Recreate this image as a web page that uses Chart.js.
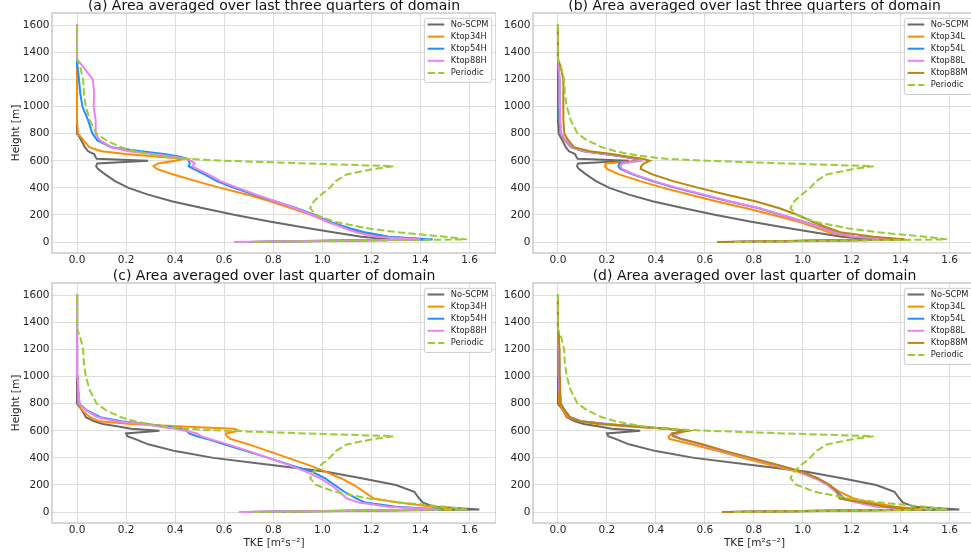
<!DOCTYPE html>
<html>
<head>
<meta charset="utf-8">
<script src="https://cdn.jsdelivr.net/npm/chart.js@4.4.1/dist/chart.umd.min.js"></script>
<style>
  html, body { margin: 0; padding: 0; background: #fff; overflow: hidden; }
  #fig { position: relative; width: 971px; height: 554px; overflow: hidden; background: #fff; }
  #fig canvas { position: absolute; }
</style>
</head>
<body>
<div id="fig">
  <canvas id="pa" width="496" height="270" style="left:0px;top:-1px"></canvas>
  <canvas id="pb" width="496" height="270" style="left:480px;top:-1px"></canvas>
  <canvas id="pc" width="496" height="285" style="left:0px;top:269px"></canvas>
  <canvas id="pd" width="496" height="285" style="left:480px;top:269px"></canvas>
</div>
<script>
// heights [m] shared by every profile
const Z = [0, 20, 40, 70, 100, 150, 200, 250, 300, 350, 400, 450, 500, 540, 560,
  580, 600, 615, 630, 650, 670, 700, 750, 800, 900, 1000, 1100, 1200, 1300, 1350, 1610]

const X_TICKS = [0.0, 0.2, 0.4, 0.6, 0.8, 1.0, 1.2, 1.4, 1.6]
const Y_TICKS = [0, 200, 400, 600, 800, 1000, 1200, 1400, 1600]

const TITLES = [
  "(a) Area averaged over last three quarters of domain",
  "(b) Area averaged over last three quarters of domain",
  "(c) Area averaged over last quarter of domain",
  "(d) Area averaged over last quarter of domain",
]
const LABELS_H = ["No-SCPM", "Ktop34H", "Ktop54H", "Ktop88H", "Periodic"]
const LABELS_L = ["No-SCPM", "Ktop34L", "Ktop54L", "Ktop88L", "Ktop88M", "Periodic"]

// TKE [m2 s-2] at the heights in Z
const PERIODIC = [0.72, 1.59, 1.50, 1.32, 1.19, 1.05, 0.975, 0.95, 0.965, 0.995, 1.03, 1.055, 1.10, 1.21, 1.29,
  0.94, 0.61, 0.44, 0.365, 0.29, 0.235, 0.18, 0.12, 0.08, 0.052, 0.036, 0.028, 0.025, 0.012, 0, 0]

// last three quarters of domain
const NOSCPM_3Q = [0.70, 1.28, 1.16, 1.05, 0.95, 0.79, 0.645, 0.515, 0.39, 0.29, 0.21, 0.155, 0.115, 0.085, 0.078,
  0.082, 0.29, 0.08, 0.075, 0.07, 0.045, 0.032, 0.018, 0.003, 0, 0, 0, 0, 0, 0, 0]
const K34H_3Q = [0.70, 1.42, 1.27, 1.155, 1.10, 1.025, 0.955, 0.875, 0.79, 0.695, 0.585, 0.485, 0.39, 0.325, 0.312,
  0.33, 0.40, 0.44, 0.33, 0.20, 0.10, 0.05, 0.027, 0.004, 0, 0, 0, 0, 0, 0, 0]
const K54H_3Q = [0.70, 1.45, 1.27, 1.18, 1.115, 1.03, 0.97, 0.895, 0.81, 0.72, 0.64, 0.57, 0.52, 0.475, 0.455,
  0.46, 0.455, 0.45, 0.42, 0.355, 0.26, 0.14, 0.083, 0.063, 0.045, 0.022, 0.013, 0.008, 0.002, 0, 0]
const K88H_3Q = [0.64, 1.40, 1.22, 1.14, 1.095, 1.02, 0.96, 0.89, 0.81, 0.73, 0.655, 0.585, 0.535, 0.49, 0.47,
  0.48, 0.465, 0.445, 0.39, 0.31, 0.21, 0.14, 0.094, 0.075, 0.076, 0.068, 0.07, 0.064, 0.022, 0, 0]
const K34L_3Q = [0.70, 1.40, 1.20, 1.11, 1.065, 0.985, 0.88, 0.77, 0.65, 0.54, 0.43, 0.335, 0.25, 0.20, 0.192,
  0.195, 0.33, 0.31, 0.27, 0.19, 0.105, 0.052, 0.028, 0.01, 0.007, 0.006, 0.006, 0.005, 0.002, 0, 0]
const K54L_3Q = [0.70, 1.41, 1.21, 1.135, 1.09, 1.005, 0.915, 0.82, 0.70, 0.59, 0.48, 0.385, 0.305, 0.255, 0.247,
  0.25, 0.33, 0.32, 0.27, 0.19, 0.105, 0.055, 0.032, 0.012, 0.008, 0.007, 0.006, 0.005, 0.002, 0, 0]
const K88L_3Q = [0.68, 1.41, 1.21, 1.13, 1.085, 1.00, 0.915, 0.825, 0.705, 0.598, 0.488, 0.393, 0.312, 0.262, 0.255,
  0.262, 0.34, 0.325, 0.275, 0.195, 0.11, 0.057, 0.033, 0.013, 0.009, 0.008, 0.007, 0.006, 0.003, 0, 0]
const K88M_3Q = [0.65, 1.42, 1.29, 1.16, 1.11, 1.04, 0.98, 0.905, 0.81, 0.69, 0.575, 0.47, 0.386, 0.338, 0.34,
  0.35, 0.375, 0.345, 0.29, 0.22, 0.13, 0.065, 0.043, 0.026, 0.022, 0.022, 0.022, 0.022, 0.01, 0, 0]

// last quarter of domain
const NOSCPM_1Q = [0.70, 1.64, 1.455, 1.41, 1.395, 1.375, 1.30, 1.16, 1.01, 0.784, 0.556, 0.40, 0.29, 0.235, 0.205,
  0.20, 0.336, 0.22, 0.175, 0.106, 0.07, 0.036, 0.021, 0, 0, 0, 0, 0, 0, 0, 0]
const K34H_1Q = [0.70, 1.53, 1.45, 1.31, 1.21, 1.17, 1.13, 1.075, 1.01, 0.94, 0.86, 0.78, 0.70, 0.625, 0.61,
  0.607, 0.66, 0.64, 0.45, 0.22, 0.09, 0.053, 0.022, 0.005, 0.004, 0.003, 0.002, 0.001, 0, 0, 0]
const K54H_1Q = [0.70, 1.49, 1.30, 1.175, 1.14, 1.09, 1.05, 1.01, 0.955, 0.865, 0.78, 0.69, 0.60, 0.53, 0.49,
  0.456, 0.448, 0.43, 0.365, 0.285, 0.18, 0.095, 0.041, 0.01, 0.005, 0.003, 0.002, 0, 0, 0, 0]
const K88H_1Q = [0.66, 1.47, 1.27, 1.15, 1.10, 1.07, 1.035, 0.99, 0.93, 0.86, 0.78, 0.70, 0.615, 0.54, 0.505,
  0.49, 0.44, 0.40, 0.34, 0.27, 0.16, 0.085, 0.037, 0.01, 0.005, 0.003, 0.001, 0, 0, 0, 0]
const K34L_1Q = [0.70, 1.49, 1.38, 1.28, 1.21, 1.15, 1.108, 1.05, 0.975, 0.865, 0.755, 0.655, 0.545, 0.455, 0.452,
  0.47, 0.53, 0.445, 0.30, 0.16, 0.09, 0.04, 0.02, 0.008, 0.005, 0.004, 0.003, 0.002, 0.001, 0, 0]
const K54L_1Q = [0.70, 1.46, 1.33, 1.24, 1.17, 1.14, 1.11, 1.06, 0.99, 0.89, 0.785, 0.68, 0.585, 0.50, 0.475,
  0.47, 0.52, 0.45, 0.34, 0.20, 0.095, 0.05, 0.028, 0.012, 0.008, 0.006, 0.005, 0.004, 0.002, 0, 0]
const K88L_1Q = [0.69, 1.46, 1.30, 1.22, 1.16, 1.135, 1.10, 1.05, 0.985, 0.885, 0.78, 0.675, 0.58, 0.50, 0.475,
  0.49, 0.52, 0.45, 0.33, 0.195, 0.095, 0.05, 0.027, 0.012, 0.008, 0.006, 0.005, 0.004, 0.002, 0, 0]
const K88M_1Q = [0.67, 1.47, 1.34, 1.25, 1.15, 1.14, 1.11, 1.06, 0.995, 0.895, 0.79, 0.685, 0.59, 0.505, 0.47,
  0.465, 0.53, 0.45, 0.33, 0.19, 0.09, 0.048, 0.027, 0.012, 0.009, 0.008, 0.007, 0.006, 0.003, 0, 0]

const COLORS = {
  "No-SCPM": "#696969",
  "Ktop34H": "#ff8c00", "Ktop34L": "#ff8c00",
  "Ktop54H": "#1e90ff", "Ktop54L": "#1e90ff",
  "Ktop88H": "#ee82ee", "Ktop88L": "#ee82ee",
  "Ktop88M": "#b8860b",
  "Periodic": "#9acd32",
}

Chart.defaults.font.family = "'DejaVu Sans', sans-serif"
Chart.defaults.color = "#262626"

// legend drawn inside the axes, upper right, like matplotlib
const innerLegend = {
  id: "innerLegend",
  afterDraw(chart) {
    const { ctx, chartArea } = chart
    const sets = chart.data.datasets
    ctx.save()
    ctx.font = "8.3px 'DejaVu Sans'"
    const textW = Math.max(...sets.map(d => ctx.measureText(d.label).width))
    const pad = 3.3, handle = 16.6, gap = 6.6, rowH = 12.1
    const w = pad * 2 + handle + gap + textW
    const h = sets.length * rowH + 3.6
    const x = chartArea.right - 4.2 - w
    const y = chartArea.top + 5.3
    ctx.fillStyle = "rgba(255,255,255,0.8)"
    ctx.strokeStyle = "#cccccc"
    ctx.lineWidth = 1
    ctx.beginPath()
    ctx.roundRect(x, y, w, h, 2)
    ctx.fill()
    ctx.stroke()
    sets.forEach((d, i) => {
      const cy = y + 6.2 + i * rowH
      ctx.strokeStyle = d.borderColor
      ctx.lineWidth = 2
      ctx.setLineDash(d.borderDash)
      ctx.beginPath()
      ctx.moveTo(x + pad, cy)
      ctx.lineTo(x + pad + handle, cy)
      ctx.stroke()
      ctx.setLineDash([])
      ctx.fillStyle = "#262626"
      ctx.textBaseline = "middle"
      ctx.textAlign = "left"
      ctx.fillText(d.label, x + pad + handle + gap, cy)
    })
    ctx.restore()
  },
}

// spines round the axes
const frame = {
  id: "frame",
  afterDatasetsDraw(chart) {
    const { ctx, chartArea: a } = chart
    ctx.save()
    ctx.strokeStyle = "#b0b0b0"
    ctx.lineWidth = 1
    ctx.strokeRect(a.left, a.top, a.right - a.left, a.bottom - a.top)
    ctx.restore()
  },
}

function makePanel(id, title, labels, values, yAxisW, withYTitle, withXTitle) {
  const datasets = labels.map((label, i) => ({
    label: label,
    data: Z.map((z, k) => ({ x: values[i][k], y: z })),
    borderColor: COLORS[label],
    borderWidth: 2,
    borderDash: label === "Periodic" ? [7.4, 3.2] : [],
    pointRadius: 0,
    showLine: true,
    tension: 0,
    order: labels.length - i,
  }))

  new Chart(document.getElementById(id), {
    type: "scatter",
    data: { datasets: datasets },
    plugins: [frame, innerLegend],
    options: {
      responsive: false,
      animation: false,
      devicePixelRatio: 1,
      layout: { padding: 0 },
      plugins: {
        legend: { display: false },
        tooltip: { enabled: false },
        title: {
          display: true,
          text: title,
          fullSize: false,
          color: "#111",
          font: { size: 14, weight: "normal", lineHeight: 1.0 },
          padding: 0,
        },
      },
      scales: {
        x: {
          type: "linear",
          min: -0.102,
          max: 1.708,
          afterBuildTicks: s => { s.ticks = X_TICKS.map(v => ({ value: v })) },
          afterFit: s => { s.height = withXTitle ? 31 : 16 },
          ticks: { padding: 1, font: { size: 10.5 }, maxRotation: 0, autoSkip: false, callback: v => v.toFixed(1) },
          grid: { color: "#dedede", lineWidth: 1, drawTicks: false },
          border: { display: false },
          title: {
            display: withXTitle,
            text: "TKE [m²s⁻²]",
            font: { size: 10.5 },
            padding: { top: 0, bottom: 4.2 },
          },
        },
        y: {
          type: "linear",
          min: -80.5,
          max: 1690.5,
          afterBuildTicks: s => { s.ticks = Y_TICKS.map(v => ({ value: v })) },
          afterFit: s => { s.width = yAxisW },
          ticks: { padding: 2.5, font: { size: 10.5 }, autoSkip: false, callback: v => v.toFixed(0) },
          grid: { color: "#dedede", lineWidth: 1, drawTicks: false },
          border: { display: false },
          title: {
            display: withYTitle,
            text: "Height [m]",
            font: { size: 10.5 },
            padding: { top: 9.5, bottom: 0 },
          },
        },
      },
    },
  })
}

makePanel("pa", TITLES[0], LABELS_H, [NOSCPM_3Q, K34H_3Q, K54H_3Q, K88H_3Q, PERIODIC], 52, true, false)
makePanel("pb", TITLES[1], LABELS_L, [NOSCPM_3Q, K34L_3Q, K54L_3Q, K88L_3Q, K88M_3Q, PERIODIC], 53, false, false)
makePanel("pc", TITLES[2], LABELS_H, [NOSCPM_1Q, K34H_1Q, K54H_1Q, K88H_1Q, PERIODIC], 52, true, true)
makePanel("pd", TITLES[3], LABELS_L, [NOSCPM_1Q, K34L_1Q, K54L_1Q, K88L_1Q, K88M_1Q, PERIODIC], 53, false, true)
</script>
</body>
</html>
